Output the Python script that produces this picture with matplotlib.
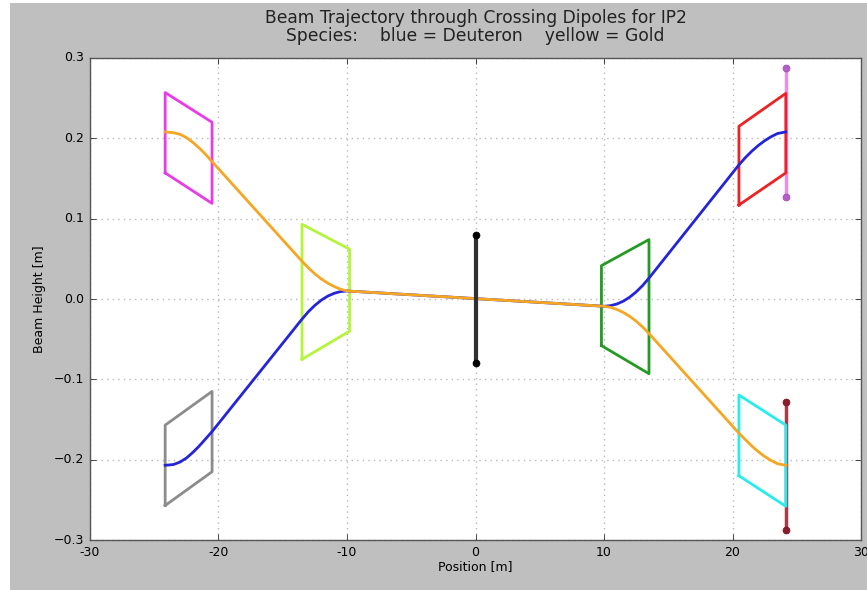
import matplotlib
matplotlib.use("Agg")
import matplotlib.pyplot as plt
from matplotlib.patches import Rectangle

# ---- beam trajectories (position [m], height [m]) ----
pos_left = [-24.15, -23.5, -23.0, -22.5, -22.0, -21.5, -21.0, -20.5,
            -13.5, -13.0, -12.5, -12.0, -11.5, -11.0, -10.5, -10.0]
pos_right = [10.0, 10.5, 11.0, 11.5, 12.0, 12.5, 13.0, 13.5,
             20.5, 21.0, 21.5, 22.0, 22.5, 23.0, 23.5, 24.15]

deuteron_left = [-0.207, -0.206, -0.203, -0.198, -0.191, -0.183, -0.174, -0.165,
                 -0.025, -0.0157, -0.0079, -0.0014, 0.0036, 0.0071, 0.0093, 0.010]
deuteron_right = [-0.009, -0.0083, -0.0062, -0.0027, 0.0023, 0.0088, 0.0167, 0.026,
                  0.167, 0.176, 0.184, 0.191, 0.197, 0.202, 0.206, 0.208]

gold_left = [0.208, 0.207, 0.205, 0.201, 0.195, 0.188, 0.180, 0.171,
             0.047, 0.0387, 0.0313, 0.0250, 0.0198, 0.0155, 0.0122, 0.010]
gold_right = [-0.009, -0.0104, -0.0130, -0.0167, -0.0216, -0.0276, -0.0347, -0.043,
              -0.167, -0.175, -0.183, -0.190, -0.196, -0.201, -0.205, -0.207]

# ---- dipole outlines: (x_in, x_out, y_in_low, y_in_high, y_out_low, y_out_high) ----
dipoles = {
    "#e83ce8": (-24.15, -20.5, 0.157, 0.257, 0.119, 0.220),
    "#8c8c8c": (-24.15, -20.5, -0.257, -0.157, -0.215, -0.115),
    "#b4f53c": (-13.5, -9.8, -0.075, 0.093, -0.040, 0.062),
    "#239b23": (9.8, 13.5, -0.058, 0.0415, -0.093, 0.074),
    "#ee2222": (20.5, 24.15, 0.117, 0.215, 0.157, 0.256),
    "#28ecec": (20.5, 24.15, -0.220, -0.1195, -0.258, -0.157),
}

# ---- markers at IP and at the far ends ----
ip_x, ip_y = [0.0, 0.0], [-0.08, 0.08]
end_x = 24.15
upper_end_y = [0.127, 0.287]
lower_end_y = [-0.288, -0.128]

x_ticks = [-30, -20, -10, 0, 10, 20, 30]
y_ticks = [-0.3, -0.2, -0.1, 0.0, 0.1, 0.2, 0.3]

plt.style.use("classic")
fig = plt.figure(figsize=(8.67, 5.90), dpi=100, facecolor="#bfbfbf")
ax = fig.add_axes([0.1038, 0.0847, 0.8893, 0.8170])

ax.grid(True, color="#b8b8b8", linestyle=":", linewidth=1.0)
ax.set_axisbelow(True)

# end markers (underneath the dipole outlines)
ax.plot([end_x, end_x], upper_end_y, color="#e890e8", lw=2.5, marker="o", ms=5,
        mfc="#b45fc8", mec="#9a4ab0", zorder=1.5)
ax.plot([end_x, end_x], lower_end_y, color="#a83a48", lw=2.5, marker="o", ms=5,
        mfc="#8b1a2a", mec="#7a1020", zorder=1.5)

# dipole outlines
for color, (x0, x1, a0, a1, b0, b1) in dipoles.items():
    ax.plot([x0, x0, x1, x1, x0], [a0, a1, b1, b0, a0], color=color, lw=2.0, zorder=2)

# beams
ax.plot(pos_left + pos_right, deuteron_left + deuteron_right, color="#2424d8", lw=2.0, zorder=3)
ax.plot(pos_left + pos_right, gold_left + gold_right, color="#f5a623", lw=2.0, zorder=4)

# interaction point
ax.plot(ip_x, ip_y, color="#303030", lw=3, marker="o", ms=5, mfc="black", mec="black", zorder=5)

ax.set_xlim(-30, 30)
ax.set_ylim(-0.3, 0.3)
ax.set_xticks(x_ticks)
ax.set_yticks(y_ticks)
ax.set_xticklabels([str(t) for t in x_ticks])
ax.set_yticklabels(["\u22120.3", "\u22120.2", "\u22120.1", "0.0", "0.1", "0.2", "0.3"])
ax.tick_params(labelsize=9)
ax.set_xlabel("Position [m]", fontsize=9, labelpad=1)
ax.set_ylabel("Beam Height [m]", fontsize=9, labelpad=6)
ax.set_title("Beam Trajectory through Crossing Dipoles for IP2\n"
             "Species:    blue = Deuteron    yellow = Gold",
             fontsize=12.3, linespacing=1.0, color="#222222", pad=12)

for spine in ax.spines.values():
    spine.set_color("#555555")

# white border on the left and top edges
fig.patches.append(Rectangle((0, 0), 10 / 867, 1, transform=fig.transFigure,
                             facecolor="white", edgecolor="none", zorder=10))
fig.patches.append(Rectangle((0, 1 - 3 / 590), 1, 3 / 590, transform=fig.transFigure,
                             facecolor="white", edgecolor="none", zorder=10))

fig.savefig("out.png", dpi=100, facecolor=fig.get_facecolor())
